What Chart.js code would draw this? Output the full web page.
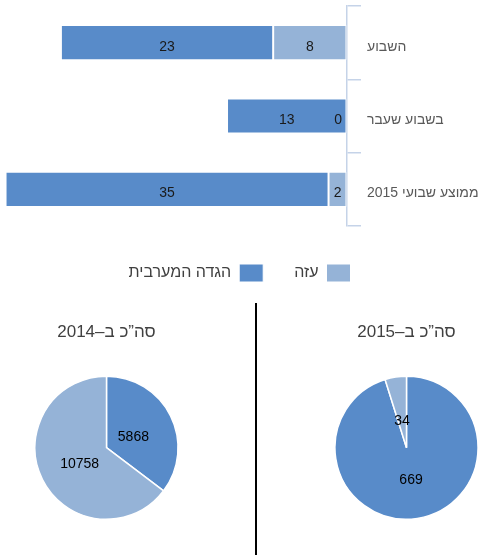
<!DOCTYPE html>
<html lang="he">
<head>
<meta charset="utf-8">
<script src="https://cdn.jsdelivr.net/npm/chart.js@4/dist/chart.umd.min.js"></script>
<style>
    body { margin: 0; background: #fff; }
    #wrap { position: relative; width: 491px; height: 555px; overflow: hidden; }
    #barBox { position: absolute; left: 0; top: 0; width: 491px; height: 292px; }
    #pie14Box { position: absolute; left: 19px; top: 310px; width: 175px; height: 210px; }
    #pie15Box { position: absolute; left: 319px; top: 310px; width: 175px; height: 210px; }
    #divider { position: absolute; left: 255px; top: 303px; width: 2px; height: 252px; background: #000; }
</style>
</head>
<body>
<div id="wrap">
    <div id="barBox"><canvas id="barChart"></canvas></div>
    <div id="divider"></div>
    <div id="pie14Box"><canvas id="pie2014"></canvas></div>
    <div id="pie15Box"><canvas id="pie2015"></canvas></div>
</div>
<script>
// weekly numbers (bar chart)
const categories = ['השבוע', 'בשבוע שעבר', 'ממוצע שבועי 2015'];
const seriesNames = ['עזה', 'הגדה המערבית'];
const gaza = [8, 0, 2];
const westBank = [23, 13, 35];

// yearly totals (pies) - west bank first, then gaza
const pieTitles = ['סה”כ ב–2014', 'סה”כ ב–2015'];
const totals2014 = [5868, 10758];
const totals2015 = [669, 34];

const DARK = '#588BC9';
const LIGHT = '#95B3D7';
const AXIS = '#C5D3E8';
const FONT = "'Liberation Sans', Arial, sans-serif";

Chart.defaults.font.family = FONT;
Chart.defaults.animation = false;

// value labels inside the bar segments
const barLabels = {
    id: 'barLabels',
    afterDatasetsDraw(chart) {
        const ctx = chart.ctx;
        const right = chart.chartArea.right;
        ctx.save();
        ctx.font = '14px ' + FONT;
        ctx.fillStyle = '#1a1a1a';
        ctx.textAlign = 'center';
        ctx.textBaseline = 'middle';
        chart.data.datasets.forEach((ds, i) => {
            chart.getDatasetMeta(i).data.forEach((bar, j) => {
                const text = String(ds.data[j]);
                const half = ctx.measureText(text).width / 2;
                // keep the zero label inside the plot next to the axis
                const x = Math.min(bar.getCenterPoint().x, right - half - 5);
                ctx.fillText(text, x, bar.y + 4);
            });
        });
        ctx.restore();
    }
};

// value labels inside pie slices
const pieLabels = {
    id: 'pieLabels',
    afterDatasetsDraw(chart) {
        const ctx = chart.ctx;
        const ds = chart.data.datasets[0];
        ctx.save();
        ctx.font = '14px ' + FONT;
        ctx.fillStyle = '#000';
        ctx.textAlign = 'center';
        ctx.textBaseline = 'middle';
        chart.getDatasetMeta(0).data.forEach((arc, j) => {
            const mid = (arc.startAngle + arc.endAngle) / 2;
            const r = arc.outerRadius * 0.42;
            ctx.fillText(String(ds.data[j]), arc.x + Math.cos(mid) * r, arc.y + Math.sin(mid) * r + 3);
        });
        ctx.restore();
    }
};

new Chart(document.getElementById('barChart'), {
    type: 'bar',
    data: {
        labels: categories,
        datasets: [
            { label: seriesNames[0], data: gaza, backgroundColor: LIGHT },
            { label: seriesNames[1], data: westBank, backgroundColor: DARK }
        ]
    },
    options: {
        indexAxis: 'y',
        responsive: true,
        maintainAspectRatio: false,
        layout: { padding: { top: 6, right: 12 } },
        datasets: {
            bar: {
                borderColor: '#fff',
                borderWidth: 1,
                borderSkipped: false,
                categoryPercentage: 1,
                barPercentage: 0.48
            }
        },
        scales: {
            x: {
                stacked: true,
                reverse: true,
                min: 0,
                max: 37.6,
                ticks: { display: false },
                grid: { display: true, drawOnChartArea: false, drawTicks: true, tickLength: 7, color: 'rgba(0,0,0,0)' },
                border: { display: false }
            },
            y: {
                stacked: true,
                position: 'right',
                afterFit: (scale) => {
                    scale.width = 132;
                    scale.paddingTop = 0;
                    scale.paddingBottom = 0;
                },
                grid: { offset: true, drawOnChartArea: false, drawTicks: true, tickLength: 14, color: AXIS, lineWidth: 1.5 },
                border: { color: AXIS, width: 1.5 },
                ticks: { padding: 6, labelOffset: 4, color: '#595959', font: { size: 14 } }
            }
        },
        plugins: {
            legend: {
                position: 'bottom',
                rtl: true,
                labels: { boxWidth: 24, boxHeight: 18, padding: 31, color: '#404040', font: { size: 16 } }
            },
            tooltip: { enabled: false }
        }
    },
    plugins: [barLabels]
});

function makePie(id, title, values) {
    return new Chart(document.getElementById(id), {
        type: 'pie',
        data: {
            labels: [seriesNames[1], seriesNames[0]],
            datasets: [{
                data: values,
                backgroundColor: [DARK, LIGHT],
                borderColor: '#fff',
                borderWidth: 1.5
            }]
        },
        options: {
            responsive: true,
            maintainAspectRatio: false,
            plugins: {
                legend: { display: false },
                tooltip: { enabled: false },
                title: {
                    display: true,
                    text: title,
                    color: '#404040',
                    font: { size: 17, weight: 'normal' },
                    padding: { top: 12, bottom: 33 }
                }
            }
        },
        plugins: [pieLabels]
    });
}

makePie('pie2014', pieTitles[0], totals2014);
makePie('pie2015', pieTitles[1], totals2015);
</script>
</body>
</html>
